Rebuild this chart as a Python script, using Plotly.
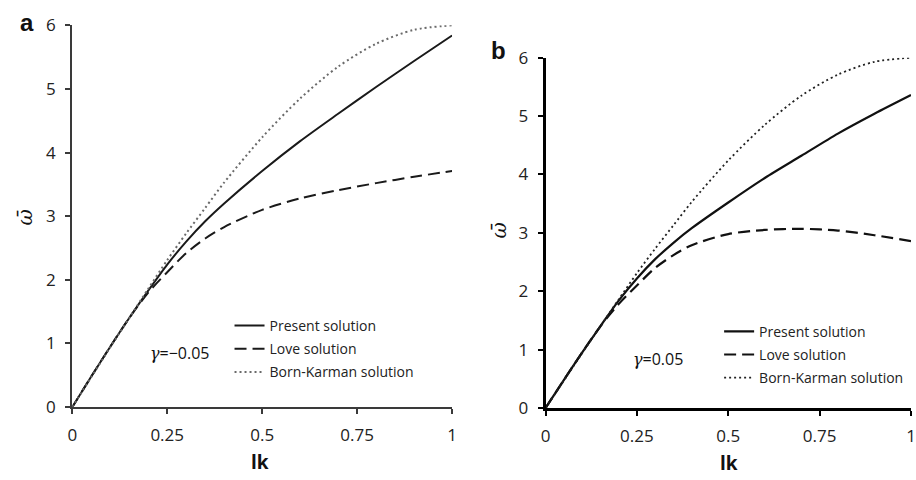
import plotly.graph_objects as go

# ---- data ----
lk = [0, 0.05, 0.1, 0.15, 0.2, 0.25, 0.3, 0.35, 0.4, 0.5, 0.6, 0.7, 0.8, 0.9, 1.0]

# panel a, gamma = -0.05
present_a = [0, 0.48, 0.95, 1.40, 1.83, 2.24, 2.60, 2.92, 3.20, 3.71, 4.18, 4.61, 5.03, 5.44, 5.84]
love_a    = [0, 0.48, 0.95, 1.40, 1.80, 2.12, 2.42, 2.65, 2.83, 3.10, 3.28, 3.41, 3.52, 3.62, 3.71]
born_a    = [0, 0.47, 0.94, 1.40, 1.86, 2.31, 2.73, 3.13, 3.53, 4.24, 4.85, 5.35, 5.71, 5.93, 6.00]

# panel b, gamma = 0.05
present_b = [0, 0.48, 0.95, 1.40, 1.84, 2.22, 2.55, 2.83, 3.08, 3.52, 3.94, 4.32, 4.70, 5.04, 5.36]
love_b    = [0, 0.48, 0.95, 1.40, 1.78, 2.10, 2.40, 2.62, 2.79, 2.98, 3.05, 3.07, 3.04, 2.96, 2.86]
born_b    = [0, 0.47, 0.94, 1.40, 1.86, 2.31, 2.73, 3.13, 3.53, 4.24, 4.85, 5.35, 5.71, 5.93, 6.00]

names = ["Present solution", "Love solution", "Born-Karman solution"]
x_ticks = [0, 0.25, 0.5, 0.75, 1]
x_ticklabels = ["0", "0.25", "0.5", "0.75", "1"]
y_ticks = [0, 1, 2, 3, 4, 5, 6]

W, H = 916, 480
FONT = "Open Sans"

fig = go.Figure()

def add_panel(xa, ya, leg, series, colors, widths):
    dashes = ["solid", "12px,6px", "2px,3px"]
    for i, (nm, ys) in enumerate(zip(names, series)):
        fig.add_trace(go.Scatter(
            x=lk, y=ys, mode="lines", name=nm,
            line=dict(color=colors[i], width=widths[i], dash=dashes[i], shape="spline", smoothing=0.8),
            xaxis=xa, yaxis=ya, legend=leg, legendgroup=leg + str(i),
            showlegend=True, cliponaxis=False, hoverinfo="skip"))

add_panel("x", "y", "legend", [present_a, love_a, born_a],
          ["#1a1a1a", "#1a1a1a", "#6a6a6a"], [2, 2, 2])
add_panel("x2", "y2", "legend2", [present_b, love_b, born_b],
          ["#111111", "#111111", "#222222"], [2.2, 2.2, 1.8])

def px_x(p):
    return p / W

def px_y(p):
    return 1 - p / H

axis_common = dict(showgrid=False, zeroline=False, ticks="outside", ticklen=5,
                   tickfont=dict(family=FONT, size=17, color="#222222"),
                   showline=True, mirror=False)

fig.update_layout(
    width=W, height=H,
    margin=dict(l=0, r=0, t=0, b=0),
    paper_bgcolor="white", plot_bgcolor="white",
    font=dict(family=FONT, color="#222222"),
    xaxis=dict(domain=[px_x(68), px_x(452)], range=[0, 1], tickvals=x_ticks, ticktext=x_ticklabels,
               anchor="y", linecolor="#3a3a3a", linewidth=2, tickcolor="#3a3a3a", tickwidth=2,
               ticklabelstandoff=6, **axis_common),
    yaxis=dict(domain=[px_y(415), px_y(14)], range=[0, 6], tickvals=y_ticks,
               anchor="x", linecolor="#3a3a3a", linewidth=2, tickcolor="#3a3a3a", tickwidth=2,
               ticklabelstandoff=6, **axis_common),
    xaxis2=dict(domain=[px_x(546.5), 1.0], range=[0, 1], tickvals=x_ticks, ticktext=x_ticklabels,
                anchor="y2", linecolor="#000000", linewidth=3, tickcolor="#000000", tickwidth=2,
                ticklabelstandoff=6, **axis_common),
    yaxis2=dict(domain=[px_y(416), px_y(48)], range=[0, 6], tickvals=y_ticks,
                anchor="x2", linecolor="#000000", linewidth=3, tickcolor="#000000", tickwidth=2,
                ticklabelstandoff=6, **axis_common),
    legend=dict(x=px_x(227), y=px_y(313), xanchor="left", yanchor="top",
                bgcolor="rgba(0,0,0,0)", font=dict(family=FONT, size=14, color="#222222"),
                tracegroupgap=2, itemclick=False),
    legend2=dict(x=px_x(722), y=px_y(319), xanchor="left", yanchor="top",
                 bgcolor="rgba(0,0,0,0)", font=dict(family=FONT, size=14, color="#222222"),
                 tracegroupgap=2, itemclick=False),
)

ann = []
def add_text(text, x, y, size, bold=False, angle=0, family=FONT, xanchor="center"):
    t = "<b>" + text + "</b>" if bold else text
    ann.append(dict(text=t, x=px_x(x), y=px_y(y), xref="paper", yref="paper",
                    xanchor=xanchor, yanchor="middle", showarrow=False, textangle=angle,
                    font=dict(family=family, size=size, color="#111111")))

add_text("a", 22, 11, 24, bold=True, family="Liberation Sans")
add_text("b", 499, 40, 24, bold=True, family="Liberation Sans")
add_text("lk", 258, 473, 19, bold=True)
add_text("lk", 732, 474, 19, bold=True)
add_text("<i>ω̄</i>", 20, 216, 20, angle=-90, family="DejaVu Serif")
add_text("<i>ω̄</i>", 499, 230, 20, angle=-90, family="DejaVu Serif")
add_text("<span style='font-family:DejaVu Serif'><i>γ</i></span>=−0.05", 145, 358, 16, xanchor="left")
add_text("<span style='font-family:DejaVu Serif'><i>γ</i></span>=0.05", 633, 364, 16, xanchor="left")

fig.update_layout(annotations=ann)

fig.write_html("out.html")
